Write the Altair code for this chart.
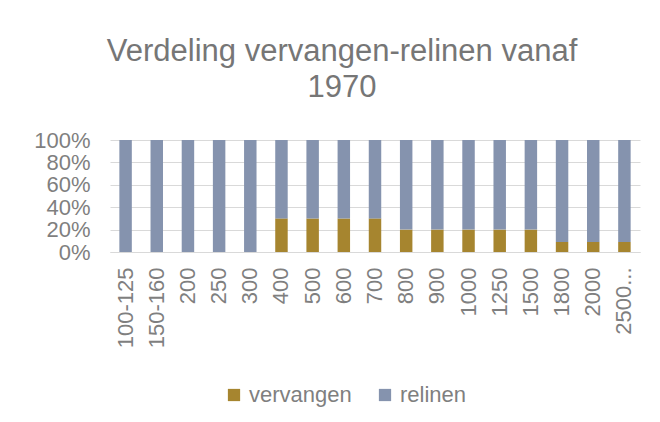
import altair as alt
import pandas as pd

categories = ["100-125", "150-160", "200", "250", "300", "400", "500", "600", "700",
              "800", "900", "1000", "1250", "1500", "1800", "2000", "2500..."]
vervangen = [0, 0, 0, 0, 0, 30, 30, 30, 30, 20, 20, 20, 20, 20, 9, 9, 9]
relinen = [100 - v for v in vervangen]
series = ["vervangen", "relinen"]
colors = ["#A6852F", "#8593AE"]

rows = []
for c, v, r in zip(categories, vervangen, relinen):
    rows.append({"cat": c, "serie": "vervangen", "val": v, "ord": 0})
    rows.append({"cat": c, "serie": "relinen", "val": r, "ord": 1})
df = pd.DataFrame(rows)

FONT = "Liberation Sans"
GREY = "#7f7f7f"

chart = alt.Chart(df).mark_bar().encode(
    x=alt.X("cat:N", sort=categories, title=None,
            scale=alt.Scale(paddingInner=0.6, paddingOuter=0.3),
            axis=alt.Axis(labelAngle=-90, labelFontSize=22, labelColor=GREY,
                          labelFont=FONT, ticks=False, domainColor="#d9d9d9",
                          labelPadding=15, labelOverlap=False)),
    y=alt.Y("val:Q", stack="normalize", title=None,
            scale=alt.Scale(domain=[0, 1]),
            axis=alt.Axis(values=[0, 0.2, 0.4, 0.6, 0.8, 1.0], format="%",
                          labelFontSize=22, labelColor=GREY, labelFont=FONT,
                          domain=False, ticks=False, gridColor="#d9d9d9",
                          labelPadding=20)),
    color=alt.Color("serie:N", title=None,
                    scale=alt.Scale(domain=series, range=colors),
                    legend=alt.Legend(orient="none", direction="horizontal",
                                      legendX=113, legendY=244,
                                      symbolType="square", symbolSize=150,
                                      symbolStrokeWidth=0,
                                      labelFontSize=22, labelColor=GREY,
                                      labelFont=FONT, columnPadding=22,
                                      labelOffset=4)),
    order=alt.Order("ord:Q", sort="ascending"),
).properties(
    width=530,
    height=112,
    title=alt.TitleParams(text=["Verdeling vervangen-relinen vanaf", "1970"],
                          fontSize=31, font=FONT, color="#767676",
                          fontWeight="normal", anchor="middle", frame="group",
                          dx=-33, offset=25, lineHeight=36),
    padding={"left": 102, "top": 132, "right": 12, "bottom": 158},
    autosize=alt.AutoSizeParams(type="none"),
).configure_view(stroke=None)

chart.save("out.html", embed_options={"renderer": "svg", "actions": False})
